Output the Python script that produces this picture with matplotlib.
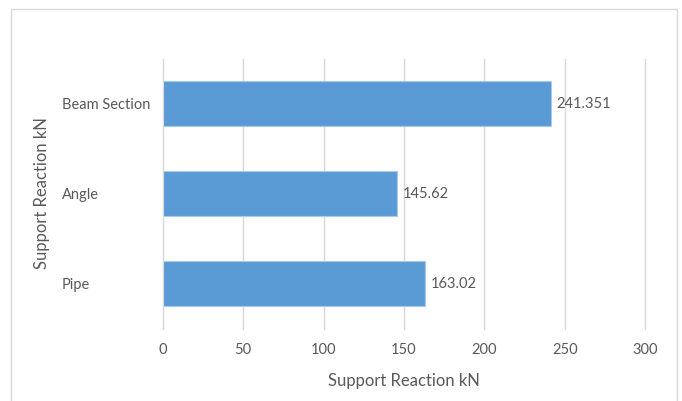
import matplotlib
matplotlib.use("Agg")
import matplotlib.pyplot as plt
from matplotlib.patches import Rectangle

# Data (bottom to top as drawn)
categories = ["Pipe", "Angle", "Beam Section"]
reactions = [163.02, 145.62, 241.351]
value_labels = ["163.02", "145.62", "241.351"]
x_ticks = [0, 50, 100, 150, 200, 250, 300]

TEXT = "#595959"
GRID = "#d9d9d9"
BAR = "#5b9bd5"

plt.rcParams["font.family"] = ["Lato", "DejaVu Sans"]

fig = plt.figure(figsize=(6.82, 4.01), dpi=100)
fig.patch.set_facecolor("white")

# chart area border like the spreadsheet frame
fig.add_artist(Rectangle((11 / 682, -0.01), 666 / 682, 1 - 9 / 401 + 0.01,
                         transform=fig.transFigure, fill=False,
                         edgecolor=GRID, linewidth=1))

ax = fig.add_axes([162.7 / 682, 72.5 / 401, 482.4 / 682, 270 / 401])

pos = range(len(categories))
ax.barh(pos, reactions, height=0.5, color=BAR, edgecolor="#a9c9ea",
        linewidth=0.8, zorder=3)

for y, v, lab in zip(pos, reactions, value_labels):
    ax.annotate(lab, (v, y), xytext=(4, 0), textcoords="offset points",
                ha="left", va="center", fontsize=10.5, color=TEXT)

ax.set_xlim(0, 300)
ax.set_ylim(-0.5, len(categories) - 0.5)
ax.set_xticks(x_ticks)
ax.set_yticks(list(pos))
ax.set_yticklabels(categories, ha="left")
ax.tick_params(axis="both", length=0, labelsize=10.5, labelcolor=TEXT)
ax.tick_params(axis="x", pad=10.5)
ax.tick_params(axis="y", pad=(162.7 - 62) * 0.72)

ax.grid(axis="x", color=GRID, linewidth=1, zorder=0)
for gl in ax.xaxis.get_gridlines():
    gl.set_clip_on(False)
ax.set_axisbelow(True)
for side in ["top", "right", "bottom"]:
    ax.spines[side].set_visible(False)
ax.spines["left"].set_color(GRID)
ax.spines["left"].set_zorder(4)

ax.set_xlabel("Support Reaction kN", fontsize=12, color=TEXT)
ax.xaxis.set_label_coords(0.5, (328.5 - 381) / 270)
ax.xaxis.label.set_va("center")
ax.set_ylabel("Support Reaction kN", fontsize=12, color=TEXT)
ax.yaxis.set_label_coords((42 - 162.7) / 482.4, 0.5)
ax.yaxis.label.set_va("center")

fig.savefig("out.png", dpi=100)
